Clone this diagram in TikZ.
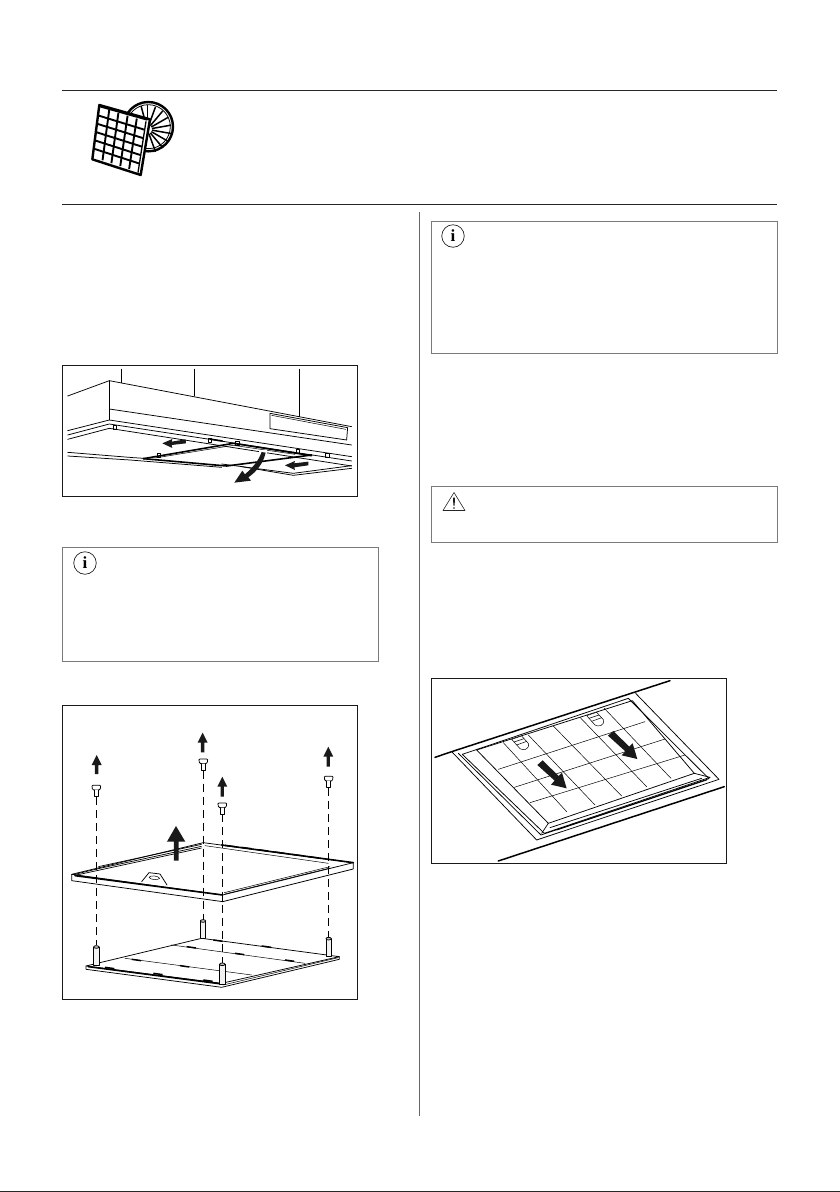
\documentclass[tikz,border=0pt]{standalone}
\usepackage{fontspec}
\usetikzlibrary{calc}
\setmainfont{Liberation Serif}
\tikzset{
  gbox/.style={draw=black!52,line width=0.9pt},
  rulel/.style={draw=black!85,line width=1pt},
  ln/.style={line width=0.75pt,line join=round,line cap=round},
  thn/.style={line width=0.5pt,line join=round,line cap=round},
  thk/.style={line width=1.6pt,line join=round,line cap=round},
  frm/.style={draw=black!90,line width=0.8pt},
  zm/.style 2 args={xshift=#1pt,yshift=-#2pt,x=0.3333pt,y=-0.3333pt}
}
\newcommand{\infoicon}[2]{%
  \node[circle,draw=black!85,line width=0.7pt,minimum size=22.5pt,inner sep=0pt,
        font=\bfseries\fontsize{17}{17}\selectfont] (#2) at (#1) {i};}
\newcommand{\uparr}[3]{\fill[black!90] (#1,#2) -- (#1+15,#2+30) -- (#1+5,#2+30) -- (#1+5,#3) -- (#1-5,#3) -- (#1-5,#2+30) -- (#1-15,#2+30) -- cycle;}
\newcommand{\screw}[2]{%
  \filldraw[fill=white,draw=black,ln] (#1-13,#2-4) -- (#1-10,#2-6) -- (#1+10,#2-6) -- (#1+13,#2-4) -- (#1+12,#2+4) -- (#1+8,#2+8) -- (#1-8,#2+8) -- (#1-12,#2+4) -- cycle;
  \filldraw[fill=white,draw=black,ln] (#1-6,#2+8) -- (#1-6,#2+27) -- (#1+6,#2+27) -- (#1+6,#2+8);}
\newcommand{\post}[3]{%
  \filldraw[fill=black!5,draw=black,ln] (#1-8,#2+3) -- (#1-8,#3) -- (#1+8,#3) -- (#1+8,#2+3);
  \filldraw[fill=black!25,draw=black,ln] (#1,#2+3) ellipse[x radius=8,y radius=4];
}
\begin{document}
\begin{tikzpicture}[x=1pt,y=-1pt]
\useasboundingbox (0,0) rectangle (840,1192);
\fill[white] (0,0) rectangle (840,1192);
\fill[black!85] (0,1191) rectangle (840,1192);
% rules
\draw[rulel] (62,90.5) -- (777,90.5);
\draw[rulel] (62,204.5) -- (777,204.5);
\draw[draw=black!60,line width=0.8pt] (419.5,212) -- (419.5,1116);
% text boxes
\draw[gbox] (62.5,547.5) rectangle (378.5,661);
\draw[gbox] (431.5,221.5) rectangle (777,353);
\draw[gbox] (431.5,486.5) rectangle (777,542);
\infoicon{85,563}{infoa}
\infoicon{453,236}{infob}
% warning
\draw[black!85,line width=0.6pt,line join=round] (454,492.5) -- (465,510.5) -- (443,510.5) -- cycle;
\fill[black!90] (453,497.5) -- (455,497.5) -- (454.6,505.5) -- (453.4,505.5) -- cycle;
\fill[black!90] (454,508) circle (0.9);
% header icon
\begin{scope}[zm={50}{80}]
  \draw[line width=2.4pt] (295,140) circle[radius=74];
  \draw[line width=0.8pt] (295,140) circle[radius=66];
  \foreach \a in {-105,-90,-70,-50,-30,-10,10,30,50,70}
    \draw[line width=1.5pt] (292,148) ++(\a:14) -- ++(\a:58);
  \filldraw[fill=white,draw=black,line width=2.4pt,line join=round] (148,75) -- (300,118) -- (272,285) -- (127,238) -- cycle;
  \draw[line width=1.3pt,line join=round] (288,124) -- (264,278);
  \draw[line width=1.4pt] (150,80) -- (292,120);
  \foreach \t in {0.2,0.4,0.6,0.8}
    \draw[line width=1.9pt] ($(150,82)!\t!(288,124)$) -- ($(131,232)!\t!(264,276)$);
  \foreach \t in {0.1667,0.3333,0.5,0.6667,0.8333}
    \draw[line width=1.9pt] ($(150,82)!\t!(131,232)$) -- ($(288,124)!\t!(264,276)$);
\end{scope}
% figure 1
\draw[frm] (62.5,365) rectangle (357.5,496);
\begin{scope}[zm={55}{360}]
  \draw[ln] (38,108) -- (163,62) -- (890,200);
  \draw[ln] (163,62) -- (163,180);
  \draw[ln] (198,28) -- (198,68) (418,28) -- (418,108) (733,28) -- (733,170);
  \draw[ln] (163,147) -- (890,255);
  \draw[ln] (645,160) -- (878,203) -- (875,240) -- (645,206) -- cycle;
  \draw[thn] (650,166) -- (872,208);
  \draw[ln] (38,212) -- (163,180) -- (890,290);
  \draw[ln] (38,225) -- (163,192) -- (890,303);
  \draw[ln] (38,238) -- (163,205) -- (890,318);
  \foreach \sx/\sy in {180/202,465/240,547/250,728/274,817/286,312/285}
    \draw[thn] (\sx-5,\sy-6) rectangle (\sx+5,\sy+6);
  \draw[ln] (38,277) -- (235,293) -- (268,295);
  \draw[ln] (38,288) -- (225,300) -- (500,322);
  \draw[thk] (265,296) -- (535,250) -- (770,287);
  \draw[thk] (265,296) -- (515,318) -- (770,285);
  \draw[thn] (300,294) -- (535,256) -- (720,283);
  \draw[ln] (500,312) -- (715,340) -- (890,317);
  \draw[ln] (560,320) -- (715,346) -- (890,325);
  \draw[thk] (470,238) -- (502,243);
  \fill[black!90] (322,250) -- (352,237) -- (350,245) -- (392,238) -- (393,250) -- (350,255) -- (352,264) -- cycle;
  \fill[black!90] (690,316) -- (720,303) -- (718,310) -- (760,305) -- (760,316) -- (718,322) -- (720,330) -- cycle;
  \fill[white] (612,270) rectangle (635,282);
  \fill[black!90] (538,368) -- (562,332) -- (570,343) .. controls (590,325) and (610,305) .. (620,276) -- (632,278) .. controls (625,310) and (605,335) .. (580,352) -- (588,362) -- cycle;
\end{scope}
% figure 2
\draw[frm] (62.5,705) rectangle (357.5,999);
\begin{scope}[zm={55}{700}]
  \draw[ln,fill=white] (93,798) -- (440,715) -- (853,770) -- (500,850) -- cycle;
  \draw[ln] (93,798) -- (93,808) -- (500,862) -- (853,778) -- (853,770);
  \draw[thk] (100,800) -- (500,852);
  \draw[thn] (505,855) -- (850,773);
  \draw[thn] (350,735) -- (750,790);
  \draw[thn] (210,775) -- (590,825);
  \foreach \a/\b in {150/802,295/820,445/840,395/740,540/760,690/780,230/778,375/797,475/720,620/738}
    \draw[line width=1.5pt] (\a,\b) -- ++(28,4);
  \post{124}{738}{795}
  \post{444}{660}{716}
  \post{821}{713}{770}
  \post{502}{790}{852}
  % top frame
  \draw[ln,fill=white] (50,523) -- (445,428) -- (895,488) -- (503,585) -- cycle;
  \draw[ln] (50,523) -- (50,542) -- (503,605) -- (895,507) -- (895,488);
  \draw[ln] (503,585) -- (503,605);
  \draw[line width=0.7pt] (60,526) -- (130,511) -- (440,444);
  \draw[line width=0.7pt] (55,524) -- (130,506) -- (440,439);
  \draw[line width=0.7pt] (130,500) -- (440,433);
  \draw[thk] (60,527) -- (503,585);
  \draw[thk] (500,435) -- (895,488);
  \draw[thn] (450,437) -- (820,490);
  \draw[thn] (508,578) -- (825,500);
  \draw[thn] (510,582) -- (825,504);
  \foreach \a/\b in {510/436,560/442,610/449,660/456,710/463,760/470}
    \draw[line width=1.3pt] (\a,\b) -- ++(30,4);
  \draw[ln] (260,545) -- (282,518) -- (315,522) -- (336,555);
  \draw[thn] (282,532) .. controls (285,525) and (310,527) .. (314,535) .. controls (310,541) and (286,540) .. (282,532);
  \fill[black!90] (363,378) -- (391,425) -- (371,425) -- (371,482) -- (357,482) -- (357,425) -- (336,425) -- cycle;
  \draw[dashed,dash pattern=on 8pt off 5pt,line width=0.7pt] (124,292) -- (124,735) (444,212) -- (444,660) (502,342) -- (502,790) (821,265) -- (821,710);
  \screw{124}{262}\screw{445}{183}\screw{502}{315}\screw{821}{235}
  \uparr{125}{165}{222}\uparr{443}{98}{157}\uparr{502}{230}{290}\uparr{820}{140}{200}
\end{scope}
% figure 3
\draw[frm] (431,678) rectangle (726.5,863);
\begin{scope}[zm={425}{670}]
  \draw[line width=1.5pt,line cap=round] (30,262) -- (80,245) -- (735,32);
  \draw[line width=1.5pt,line cap=round] (220,573) -- (898,350);
  \draw[ln] (82,247) -- (335,510) -- (882,328) -- (632,70);
  \draw[ln] (100,250) -- (348,495) -- (852,326) -- (610,85) -- (112,253);
  \draw[ln] (112,253) -- (358,490) -- (855,322);
  \draw[ln] (155,240) -- (622,92) -- (808,310) -- (370,460) -- cycle;
  \draw[ln] (370,460) -- (350,490);
  \draw[ln] (808,310) -- (855,322);
  \draw[ln] (375,473) -- (830,325);
  \draw[ln] (395,480) -- (845,330);
  \draw[thn] (220,298) -- (660,155);
  \draw[thn] (268,352) -- (720,207);
  \draw[thn] (315,398) -- (780,255);
  \draw[thn] (235,218) -- (425,425);
  \draw[thn] (310,195) -- (510,405);
  \draw[thn] (385,168) -- (590,378);
  \draw[thn] (465,142) -- (665,350);
  \draw[thn] (538,115) -- (738,325);
  \foreach \cx/\cy in {285/218,510/147}{
    \filldraw[fill=white,draw=black,thn] (\cx-25,\cy-10) -- (\cx+5,\cy-20) -- (\cx+25,\cy+2) .. controls (\cx+30,\cy+22) and (\cx+8,\cy+24) .. (\cx,\cy+18) -- cycle;
    \draw[thn] (\cx-18,\cy-2) -- (\cx+12,\cy-12);
    \draw[thn] (\cx-10,\cy+7) -- (\cx+20,\cy-4);
  }
  \foreach \ax/\ay in {345/278,557/190}{
    \fill[black!90] (\ax-8,\ay+7) -- (\ax+8,\ay-7) -- (\ax+56,\ay+40) -- (\ax+66,\ay+30) -- (\ax+80,\ay+77) -- (\ax+33,\ay+66) -- (\ax+44,\ay+54) -- cycle;
  }
\end{scope}
\end{tikzpicture}
\end{document}
